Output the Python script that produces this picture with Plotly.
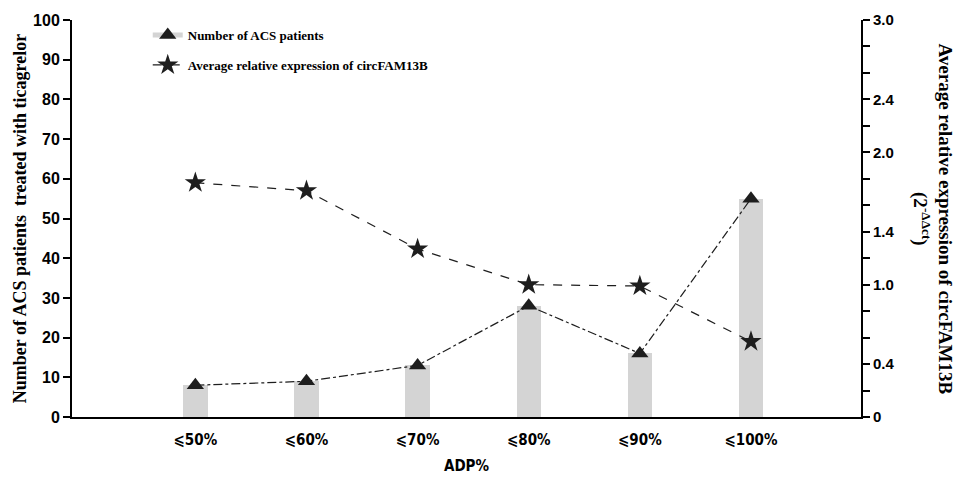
import plotly.graph_objects as go

categories = ["⩽50%", "⩽60%", "⩽70%", "⩽80%", "⩽90%", "⩽100%"]
patients = [8, 9, 13, 28, 16, 55]
expression = [1.77, 1.71, 1.27, 1.00, 0.99, 0.57]

left_ticks = list(range(0, 101, 10))
right_ticks = [0, 0.4, 1.0, 1.4, 2.0, 2.4, 3.0]
right_ticktext = ["0", "0.4", "1.0", "1.4", "2.0", "2.4", "3.0"]

BOLD_SANS = "Liberation Sans, Arial, sans-serif"
SERIF = "Liberation Serif, Times New Roman, serif"
NARROW = "Liberation Sans Narrow, DejaVu Sans Condensed, Arial Narrow, sans-serif"
DARK = "#1e1e1e"
GREY = "#d4d4d4"

fig = go.Figure()

fig.add_trace(go.Bar(
    x=categories, y=patients, width=0.22,
    marker=dict(color=GREY, line=dict(width=0)),
    showlegend=False, yaxis="y",
))
fig.add_trace(go.Scatter(
    x=categories, y=patients, mode="lines+markers",
    line=dict(color=DARK, width=1.2, dash="dashdot"),
    marker=dict(symbol="triangle-up", size=15, color=DARK),
    showlegend=False, yaxis="y",
))
fig.add_trace(go.Scatter(
    x=categories, y=expression, mode="lines+markers",
    line=dict(color=DARK, width=1.2, dash="dash"),
    marker=dict(symbol="star", size=16, color=DARK),
    showlegend=False, yaxis="y2",
))
# legend entries
fig.add_trace(go.Scatter(
    x=[None], y=[None], mode="lines+markers", name="Number of ACS patients",
    line=dict(color=GREY, width=5),
    marker=dict(symbol="triangle-up", size=15, color=DARK),
    legendgroup="a",
))
fig.add_trace(go.Scatter(
    x=[None], y=[None], mode="lines+markers", name="Average relative expression of circFAM13B",
    line=dict(color=DARK, width=1.2, dash="dash"),
    marker=dict(symbol="star", size=16, color=DARK),
    legendgroup="b",
))

fig.update_layout(
    width=955, height=470,
    margin=dict(l=64, r=102, t=12, b=61),
    plot_bgcolor="white", paper_bgcolor="white",
    bargap=0,
    legend=dict(
        x=0.096, y=1.0, xanchor="left", yanchor="top",
        font=dict(family=SERIF, size=13, color="black", weight="bold"),
        bgcolor="rgba(0,0,0,0)", tracegroupgap=10,
    ),
    xaxis=dict(
        type="category", range=[-1.11, 5.99], automargin=False,
        showline=True, linecolor="black", linewidth=2,
        ticks="outside", ticklen=8, tickcolor="rgba(0,0,0,0)",
        tickfont=dict(family=NARROW, size=15, color="black", weight="bold"),
        title=dict(text="ADP%", font=dict(family=NARROW, size=15, color="black", weight="bold"), standoff=12),
        showgrid=False, zeroline=False,
    ),
    yaxis=dict(
        range=[0, 100], tickvals=left_ticks, automargin=False,
        showline=True, linecolor="black", linewidth=2,
        ticks="outside", ticklen=7, tickwidth=2, tickcolor="black",
        tickfont=dict(family=BOLD_SANS, size=16, color="black", weight="bold"),
        title=dict(text="Number of ACS patients  treated with ticagrelor",
                   font=dict(family=SERIF, size=18, color="black", weight="bold"), standoff=2),
        showgrid=False, zeroline=False,
    ),
    yaxis2=dict(
        range=[0, 3], overlaying="y", side="right", automargin=False,
        tickvals=right_ticks, ticktext=right_ticktext,
        showline=True, linecolor="black", linewidth=2,
        ticks="outside", ticklen=7, tickwidth=2, tickcolor="black",
        minor=dict(dtick=0.2, ticks="outside", ticklen=7, tickwidth=2, tickcolor="black"),
        tickfont=dict(family=BOLD_SANS, size=15, color="black", weight="bold"),
        showgrid=False, zeroline=False,
    ),
    annotations=[dict(
        text="Average relative expression of circFAM13B<br>(2<sup>-ΔΔct</sup>)",
        xref="paper", yref="paper", x=1.0, xshift=71, y=0.5, yshift=0,
        xanchor="center", yanchor="middle", textangle=90, showarrow=False,
        font=dict(family=SERIF, size=19, color="black", weight="bold"),
    )],
)

fig.write_html("out.html")
